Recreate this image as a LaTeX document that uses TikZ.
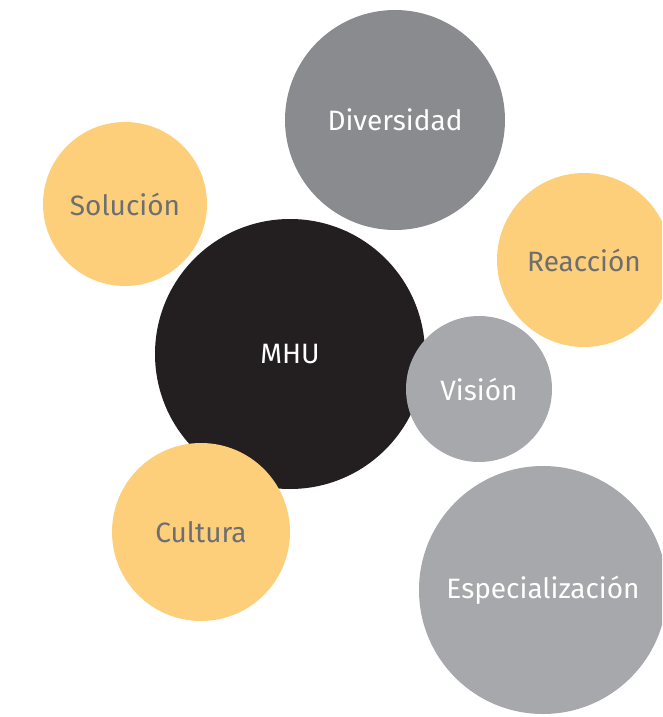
\documentclass[tikz,border=0pt]{standalone}
\usepackage{fontspec}
\setmainfont{Fira Sans}
\definecolor{amarillo}{HTML}{FDCF7A}
\definecolor{grisosc}{HTML}{8A8B8F}
\definecolor{grisclaro}{HTML}{A7A8AB}
\definecolor{negro}{HTML}{231F20}
\definecolor{textogris}{HTML}{6D6E71}
\begin{document}
\begin{tikzpicture}[x=1pt, y=-1pt,
  bubble/.style={circle, inner sep=0pt, font=\fontsize{28}{32}\selectfont},
  amarilla/.style={bubble, fill=amarillo, text=textogris},
  gris/.style={bubble, fill=grisosc, text=white},
  clara/.style={bubble, fill=grisclaro, text=white},
  centro/.style={bubble, fill=negro, text=white}]
\useasboundingbox (0,0) rectangle (662,717);
\clip (0,0) rectangle (662,717);

\node[gris, minimum size=220pt] (diversidad) at (395,120) {Diversidad};

\node[amarilla, minimum size=164pt] (solucion) at (125,204) {Solución};

\node[amarilla, minimum size=174pt] (reaccion) at (584,260) {Reacción};

\node[centro, minimum size=270pt] (mhu) at (290,354) {MHU};

\node[clara, minimum size=146pt] (vision) at (479,389) {Visión};

\node[amarilla, minimum size=178pt] (cultura) at (201,532) {Cultura};

\node[clara, minimum size=248pt] (especializacion) at (543,590) {Especialización};
\end{tikzpicture}
\end{document}
